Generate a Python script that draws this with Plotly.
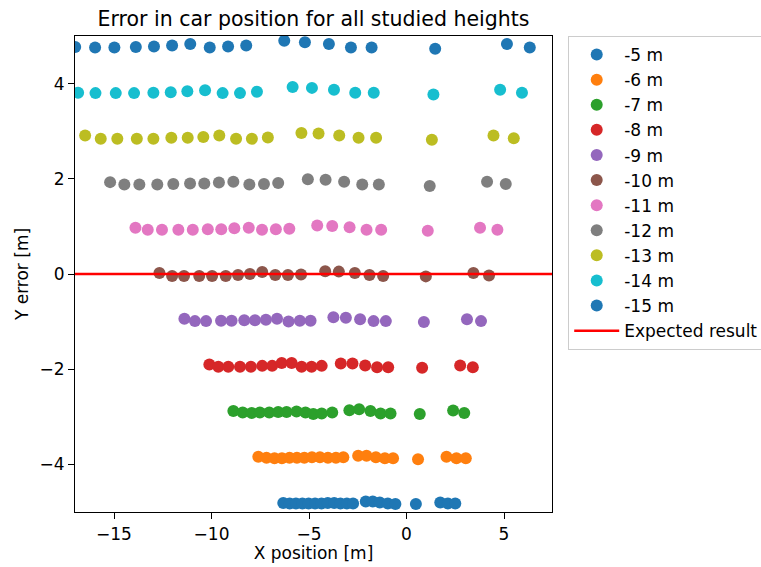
import plotly.graph_objects as go

# Camera heights studied (m) and their legend labels
heights = [-5, -6, -7, -8, -9, -10, -11, -12, -13, -14, -15]
labels = ["-5 m", "-6 m", "-7 m", "-8 m", "-9 m", "-10 m", "-11 m", "-12 m", "-13 m", "-14 m", "-15 m"]
colors = ["#1f77b4", "#ff7f0e", "#2ca02c", "#d62728", "#9467bd", "#8c564b",
          "#e377c2", "#7f7f7f", "#bcbd22", "#17becf", "#1f77b4"]

# Estimated car X position [m] and Y error [m] for each height
x_m5 = [-6.32, -5.99, -5.67, -5.34, -5.02, -4.69, -4.36, -4.04, -3.71, -3.39, -3.06, -2.74,
        -2.09, -1.73, -1.37, -0.96, -0.57, 0.48, 1.73, 2.12, 2.50]
y_m5 = [-4.81, -4.82, -4.82, -4.82, -4.82, -4.82, -4.82, -4.81, -4.81, -4.82, -4.82, -4.82,
        -4.78, -4.78, -4.80, -4.82, -4.83, -4.83, -4.80, -4.82, -4.82]

x_m6 = [-7.60, -7.18, -6.77, -6.39, -6.00, -5.62, -5.24, -4.85, -4.44, -4.03, -3.62, -3.24,
        -2.48, -2.05, -1.57, -1.11, -0.69, 0.59, 2.05, 2.56, 3.04]
y_m6 = [-3.84, -3.86, -3.87, -3.87, -3.86, -3.86, -3.86, -3.85, -3.85, -3.86, -3.86, -3.85,
        -3.82, -3.82, -3.85, -3.87, -3.87, -3.89, -3.84, -3.87, -3.87]

x_m7 = [-8.88, -8.40, -7.94, -7.52, -7.04, -6.58, -6.15, -5.64, -5.18, -4.78, -4.35, -3.81,
        -2.93, -2.43, -1.85, -1.33, -0.82, 0.68, 2.39, 2.96]
y_m7 = [-2.88, -2.91, -2.92, -2.91, -2.91, -2.90, -2.90, -2.89, -2.91, -2.94, -2.93, -2.91,
        -2.86, -2.84, -2.88, -2.93, -2.93, -2.94, -2.87, -2.92]

x_m8 = [-10.11, -9.65, -9.14, -8.54, -7.98, -7.40, -6.89, -6.40, -5.89, -5.38, -4.87, -4.35,
        -3.37, -2.77, -2.12, -1.51, -0.94, 0.80, 2.75, 3.40]
y_m8 = [-1.90, -1.95, -1.95, -1.95, -1.95, -1.93, -1.93, -1.87, -1.87, -1.95, -1.95, -1.93,
        -1.88, -1.88, -1.92, -1.96, -1.96, -1.97, -1.92, -1.96]

x_m9 = [-11.39, -10.85, -10.28, -9.51, -8.97, -8.32, -7.77, -7.21, -6.64, -6.05, -5.47, -4.92,
        -3.75, -3.11, -2.38, -1.69, -1.06, 0.89, 3.10, 3.82]
y_m9 = [-0.94, -0.99, -0.99, -0.98, -0.98, -0.97, -0.97, -0.96, -0.94, -1.00, -0.98, -0.98,
        -0.91, -0.92, -0.95, -0.99, -0.99, -1.01, -0.95, -0.99]

x_m10 = [-12.67, -12.02, -11.41, -10.63, -9.97, -9.27, -8.64, -8.03, -7.40, -6.73, -6.08, -5.41,
         -4.17, -3.47, -2.65, -1.90, -1.20, 0.99, 3.43, 4.23]
y_m10 = [0.02, -0.04, -0.04, -0.04, -0.04, -0.04, -0.02, 0.00, 0.04, -0.02, -0.02, -0.01,
         0.06, 0.05, 0.02, -0.02, -0.04, -0.05, 0.02, -0.03]

x_m11 = [-13.90, -13.27, -12.54, -11.70, -10.96, -10.19, -9.50, -8.83, -8.09, -7.41, -6.70, -6.01,
         -4.58, -3.81, -2.92, -2.05, -1.30, 1.09, 3.77, 4.66]
y_m11 = [0.97, 0.93, 0.93, 0.93, 0.93, 0.94, 0.94, 0.96, 0.97, 0.93, 0.94, 0.95,
         1.02, 1.01, 0.98, 0.93, 0.93, 0.91, 0.97, 0.93]

x_m12 = [-15.20, -14.47, -13.70, -12.78, -11.96, -11.10, -10.37, -9.62, -8.88, -8.06, -7.31, -6.58,
         -5.06, -4.15, -3.20, -2.27, -1.42, 1.19, 4.13, 5.09]
y_m12 = [1.93, 1.88, 1.88, 1.88, 1.89, 1.90, 1.90, 1.92, 1.94, 1.88, 1.89, 1.91,
         1.99, 1.98, 1.94, 1.88, 1.88, 1.85, 1.94, 1.89]

x_m13 = [-16.48, -15.68, -14.83, -13.83, -12.98, -12.06, -11.22, -10.42, -9.60, -8.74, -7.93, -7.11,
         -5.39, -4.51, -3.45, -2.46, -1.56, 1.30, 4.46, 5.50]
y_m13 = [2.91, 2.84, 2.84, 2.84, 2.84, 2.86, 2.86, 2.88, 2.91, 2.84, 2.84, 2.87,
         2.96, 2.95, 2.91, 2.86, 2.86, 2.82, 2.91, 2.85]

x_m14 = [-16.84, -15.95, -14.91, -13.97, -12.98, -12.09, -11.24, -10.33, -9.43, -8.54, -7.67,
         -5.84, -4.85, -3.72, -2.63, -1.68, 1.38, 4.80, 5.92]
y_m14 = [3.81, 3.80, 3.80, 3.80, 3.81, 3.82, 3.84, 3.86, 3.80, 3.80, 3.83,
         3.93, 3.91, 3.87, 3.81, 3.81, 3.77, 3.87, 3.81]

x_m15 = [-16.99, -15.97, -14.98, -13.88, -12.95, -12.02, -11.09, -10.09, -9.15, -8.22,
         -6.27, -5.21, -3.98, -2.85, -1.79, 1.47, 5.15, 6.32]
y_m15 = [4.77, 4.76, 4.76, 4.77, 4.78, 4.80, 4.83, 4.76, 4.78, 4.80,
         4.90, 4.87, 4.83, 4.76, 4.76, 4.73, 4.83, 4.76]

xs = [x_m5, x_m6, x_m7, x_m8, x_m9, x_m10, x_m11, x_m12, x_m13, x_m14, x_m15]
ys = [y_m5, y_m6, y_m7, y_m8, y_m9, y_m10, y_m11, y_m12, y_m13, y_m14, y_m15]

# Reference line: zero Y error
x_range = [-17.0, 7.46]
expected_x = [-17.0, 7.46]
expected_y = [0, 0]

FONT = "DejaVu Sans"

fig = go.Figure()
for lab, col, xv, yv in zip(labels, colors, xs, ys):
    fig.add_trace(go.Scatter(
        x=xv, y=yv, mode="markers", name=lab, legendgroup=lab,
        marker=dict(color=col, size=12, line=dict(width=0)),
    ))

fig.add_trace(go.Scatter(
    x=expected_x, y=expected_y, mode="lines", name="Expected result",
    legendgroup="expected", line=dict(color="red", width=2.5),
))

axis_common = dict(
    showgrid=False, zeroline=False, showline=True, mirror=True,
    linecolor="black", linewidth=1.2, ticks="outside", ticklen=6,
    tickwidth=1.2, tickcolor="black",
    tickfont=dict(family=FONT, size=17, color="black"),
)

fig.update_layout(
    width=761, height=567,
    margin=dict(l=75, r=209, t=36, b=55, autoexpand=False),
    paper_bgcolor="white", plot_bgcolor="white",
    font=dict(family=FONT, size=17, color="black"),
    title=dict(text="Error in car position for all studied heights",
               x=0.5, xref="paper", y=1 - 19 / 567, yref="container",
               xanchor="center", yanchor="middle",
               font=dict(family=FONT, size=20.5, color="black")),
    xaxis=dict(range=x_range, tickvals=[-15, -10, -5, 0, 5],
               title=dict(text="X position [m]", standoff=3,
                          font=dict(family=FONT, size=17)),
               **axis_common),
    yaxis=dict(range=[-5, 5], tickvals=[-4, -2, 0, 2, 4],
               title=dict(text="Y error [m]", standoff=6,
                          font=dict(family=FONT, size=17)),
               **axis_common),
    legend=dict(x=1.034, xanchor="left", y=1.0, yanchor="top",
                bgcolor="rgba(255,255,255,0.8)", bordercolor="#cccccc",
                borderwidth=1, font=dict(family=FONT, size=17),
                itemwidth=45, tracegroupgap=3, traceorder="normal"),
    showlegend=True,
)

fig.write_html("out.html")
